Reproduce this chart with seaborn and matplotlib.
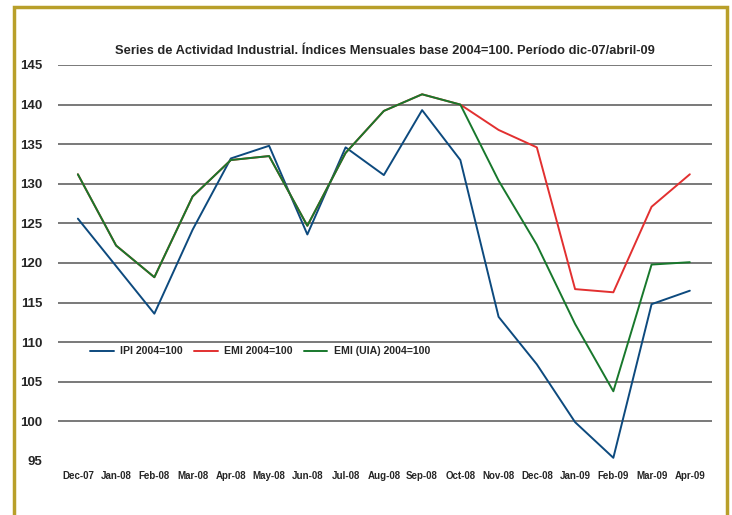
import numpy as np
import pandas as pd
import matplotlib
matplotlib.use("Agg")
import matplotlib.pyplot as plt
from matplotlib.patches import Rectangle
import seaborn as sns

months = ["Dec-07", "Jan-08", "Feb-08", "Mar-08", "Apr-08", "May-08", "Jun-08",
          "Jul-08", "Aug-08", "Sep-08", "Oct-08", "Nov-08", "Dec-08", "Jan-09",
          "Feb-09", "Mar-09", "Apr-09"]
ipi = [125.6, 119.6, 113.6, 124.2, 133.2, 134.8, 123.6, 134.6, 131.1, 139.3,
       133.0, 113.2, 107.2, 99.9, 95.4, 114.8, 116.5]
emi = [131.2, 122.2, 118.2, 128.4, 133.0, 133.5, 124.7, 133.9, 139.2, 141.3,
       140.0, 136.8, 134.6, 116.7, 116.3, 127.1, 131.2]
emi_uia = [131.2, 122.2, 118.2, 128.4, 133.0, 133.5, 124.7, 133.9, 139.2, 141.3,
           140.0, 130.4, 122.3, 112.3, 103.8, 119.8, 120.1]
series_names = ["IPI 2004=100", "EMI 2004=100", "EMI (UIA) 2004=100"]
yticks = [95, 100, 105, 110, 115, 120, 125, 130, 135, 140, 145]

df = pd.DataFrame({
    "pos": list(range(len(months))) * 3,
    "valor": ipi + emi + emi_uia,
    "serie": np.repeat(series_names, len(months)),
})

sns.set_style("white")
plt.rcParams['font.family'] = ['Liberation Sans', 'DejaVu Sans']
plt.rcParams['font.weight'] = 'bold'

fig = plt.figure(figsize=(7.32, 5.15), dpi=100)
ax = fig.add_axes([0.0792, 0.1049, 0.8935, 0.7689])

for y in yticks[1:]:
    ax.axhline(y, color="#6e6e6e", lw=1.3, zorder=0)

palette = {"IPI 2004=100": "#0d4a7e", "EMI 2004=100": "#e23030",
           "EMI (UIA) 2004=100": "#18782c"}
sns.lineplot(data=df, x="pos", y="valor", hue="serie", hue_order=series_names,
             palette=palette, lw=1.4, ax=ax, legend=True)

ax.set_xlim(-0.52, 16.58)
ax.set_ylim(95, 145)
ax.set_yticks(yticks)
ax.set_yticklabels([str(v) for v in yticks], fontsize=9.5, fontweight="bold")
ax.set_xticks(range(len(months)))
ax.set_xticklabels(months, fontsize=7, fontweight="bold")
ax.tick_params(axis="both", length=0)
ax.tick_params(axis="y", pad=11)
ax.tick_params(axis="x", pad=7)
ax.set_xlabel("")
ax.set_ylabel("")
for s in ax.spines.values():
    s.set_visible(False)

leg = ax.legend(loc="center left", bbox_to_anchor=(0.035, 0.277), ncol=3,
                frameon=False, handlelength=2.2, handletextpad=0.6,
                columnspacing=1.1, prop={"weight": "bold", "size": 7.6})

ax.set_title("Series de Actividad Industrial. Índices Mensuales base 2004=100. Período dic-07/abril-09",
             fontsize=9.3, fontweight="bold", pad=8)

fig.patches.append(Rectangle((14 / 732, -0.05), (727 - 14) / 732, 1.05 - 7 / 515,
                             transform=fig.transFigure, fill=False,
                             edgecolor="#b89f2a", lw=2.5))

fig.savefig("out.png", dpi=100)
